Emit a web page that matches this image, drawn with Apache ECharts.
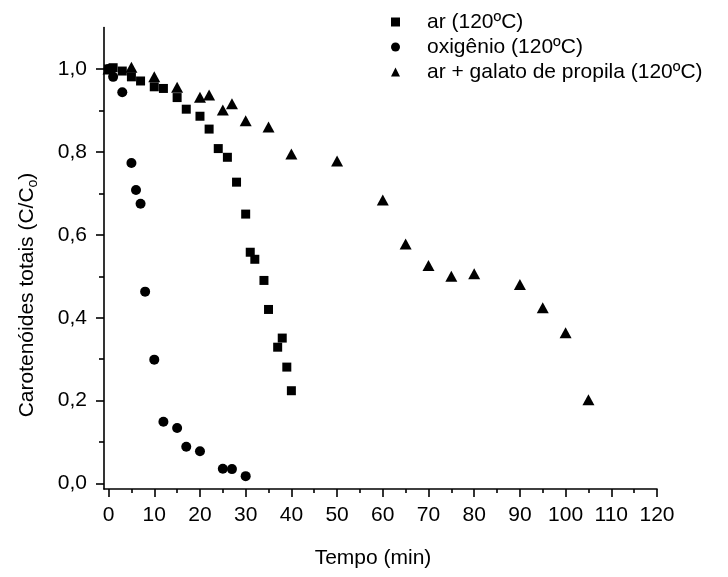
<!DOCTYPE html>
<html>
<head>
<meta charset="utf-8">
<script src="https://cdn.jsdelivr.net/npm/echarts@6/dist/echarts.min.js"></script>
<style>
html,body{margin:0;padding:0;background:#fff;}
#chart{width:728px;height:577px;}
</style>
</head>
<body>
<div id="chart"></div>
<script>
// ---- data ----
const seriesNames = ['ar (120ºC)', 'oxigênio (120ºC)', 'ar + galato de propila (120ºC)'];

const timeAr = [0, 1, 3, 5, 7, 10, 12, 15, 17, 20, 22, 24, 26, 28, 30, 31, 32, 34, 35, 37, 38, 39, 40];
const valAr  = [1.0, 1.003, 0.995, 0.981, 0.971, 0.957, 0.953, 0.931, 0.903, 0.886, 0.855, 0.808, 0.787, 0.727, 0.65, 0.558, 0.541, 0.49, 0.42, 0.329, 0.351, 0.281, 0.224];

const timeOx = [0, 1, 3, 5, 6, 7, 8, 10, 12, 15, 17, 20, 25, 27, 30];
const valOx  = [1.0, 0.981, 0.944, 0.773, 0.708, 0.675, 0.463, 0.299, 0.149, 0.134, 0.089, 0.078, 0.036, 0.035, 0.018];

const timeGal = [0, 5, 10, 15, 20, 22, 25, 27, 30, 35, 40, 50, 60, 65, 70, 75, 80, 90, 95, 100, 105];
const valGal  = [1.0, 1.004, 0.981, 0.956, 0.932, 0.937, 0.901, 0.916, 0.875, 0.86, 0.795, 0.778, 0.684, 0.578, 0.526, 0.5, 0.506, 0.48, 0.424, 0.364, 0.202];

const xMajorTicks = [0, 10, 20, 30, 40, 50, 60, 70, 80, 90, 100, 110, 120];
const xMinorTicks = [5, 15, 25, 35, 45, 55, 65, 75, 85, 95, 105, 115];
const yMajorTicks = [0, 0.2, 0.4, 0.6, 0.8, 1.0];
const yMinorTicks = [0.1, 0.3, 0.5, 0.7, 0.9];

const xTitle = 'Tempo (min)';
// ---------------------------------------

const FONT = "'Liberation Sans', Arial, Helvetica, sans-serif";
const BLACK = '#000';
const zip = (xs, ys) => xs.map((x, i) => [x, ys[i]]);

const xRange = {min: -1, max: 120};
const yRange = {min: -0.013, max: 1.1};

const chart = echarts.init(document.getElementById('chart'), null, {renderer: 'canvas'});

const lineStyle = {color: BLACK, width: 1.6};

const option = {
  animation: false,
  backgroundColor: '#fff',
  textStyle: {fontFamily: FONT},
  grid: {left: 104, right: 71, top: 27.5, bottom: 88, containLabel: false},
  legend: {
    orient: 'vertical',
    left: 391,
    top: 11.5,
    padding: 0,
    itemWidth: 9,
    itemHeight: 9,
    itemGap: 4,
    itemStyle: {opacity: 1},
    textStyle: {fontFamily: FONT, fontSize: 21, color: BLACK, lineHeight: 21, padding: [0, 0, 0, 22]},
    data: [
      {name: seriesNames[0], icon: 'rect'},
      {name: seriesNames[1], icon: 'circle'},
      {name: seriesNames[2], icon: 'triangle'}
    ],
    selectedMode: false
  },
  xAxis: [
    {
      type: 'value', min: xRange.min, max: xRange.max,
      axisLine: {show: true, onZero: false, lineStyle},
      axisTick: {show: true, customValues: xMajorTicks, length: 8, lineStyle},
      axisLabel: {customValues: xMajorTicks, margin: 16, fontSize: 21, color: BLACK, fontFamily: FONT},
      splitLine: {show: false}
    },
    {
      type: 'value', min: xRange.min, max: xRange.max, position: 'bottom',
      axisLine: {show: false, onZero: false},
      axisTick: {show: true, customValues: xMinorTicks, length: 4, lineStyle},
      axisLabel: {show: false},
      splitLine: {show: false}
    }
  ],
  yAxis: [
    {
      type: 'value', min: yRange.min, max: yRange.max,
      axisLine: {show: true, onZero: false, lineStyle},
      axisTick: {show: true, customValues: yMajorTicks, length: 8, lineStyle},
      axisLabel: {
        customValues: yMajorTicks, margin: 17, fontSize: 21, color: BLACK, fontFamily: FONT,
        formatter: v => v.toFixed(1).replace('.', ',')
      },
      splitLine: {show: false}
    },
    {
      type: 'value', min: yRange.min, max: yRange.max, position: 'left',
      axisLine: {show: false, onZero: false},
      axisTick: {show: true, customValues: yMinorTicks, length: 5, lineStyle},
      axisLabel: {show: false},
      splitLine: {show: false}
    }
  ],
  graphic: [
    {
      type: 'text', x: 27, y: 295, rotation: Math.PI / 2,
      style: {
        text: '{a|Carotenóides totais (C/C}{s|o}{a|)}',
        align: 'center', verticalAlign: 'middle',
        fill: BLACK,
        rich: {
          a: {fontFamily: FONT, fontSize: 21, fill: BLACK, lineHeight: 26, verticalAlign: 'middle'},
          s: {fontFamily: FONT, fontSize: 14, fill: BLACK, lineHeight: 14, verticalAlign: 'bottom'}
        }
      }
    },
    {
      type: 'text', x: 373, y: 558,
      style: {text: xTitle, align: 'center', verticalAlign: 'middle', fill: BLACK, fontFamily: FONT, fontSize: 21}
    }
  ],
  series: [
    {
      name: seriesNames[0], type: 'scatter', xAxisIndex: 0, yAxisIndex: 0,
      symbol: 'rect', symbolSize: 9,
      itemStyle: {color: BLACK, opacity: 1},
      data: zip(timeAr, valAr), z: 3
    },
    {
      name: seriesNames[1], type: 'scatter', xAxisIndex: 0, yAxisIndex: 0,
      symbol: 'circle', symbolSize: 10,
      itemStyle: {color: BLACK, opacity: 1},
      data: zip(timeOx, valOx), z: 2
    },
    {
      name: seriesNames[2], type: 'scatter', xAxisIndex: 0, yAxisIndex: 0,
      symbol: 'triangle', symbolSize: [12, 11],
      itemStyle: {color: BLACK, opacity: 1},
      data: zip(timeGal, valGal), z: 2
    }
  ]
};

chart.setOption(option);
</script>
</body>
</html>
